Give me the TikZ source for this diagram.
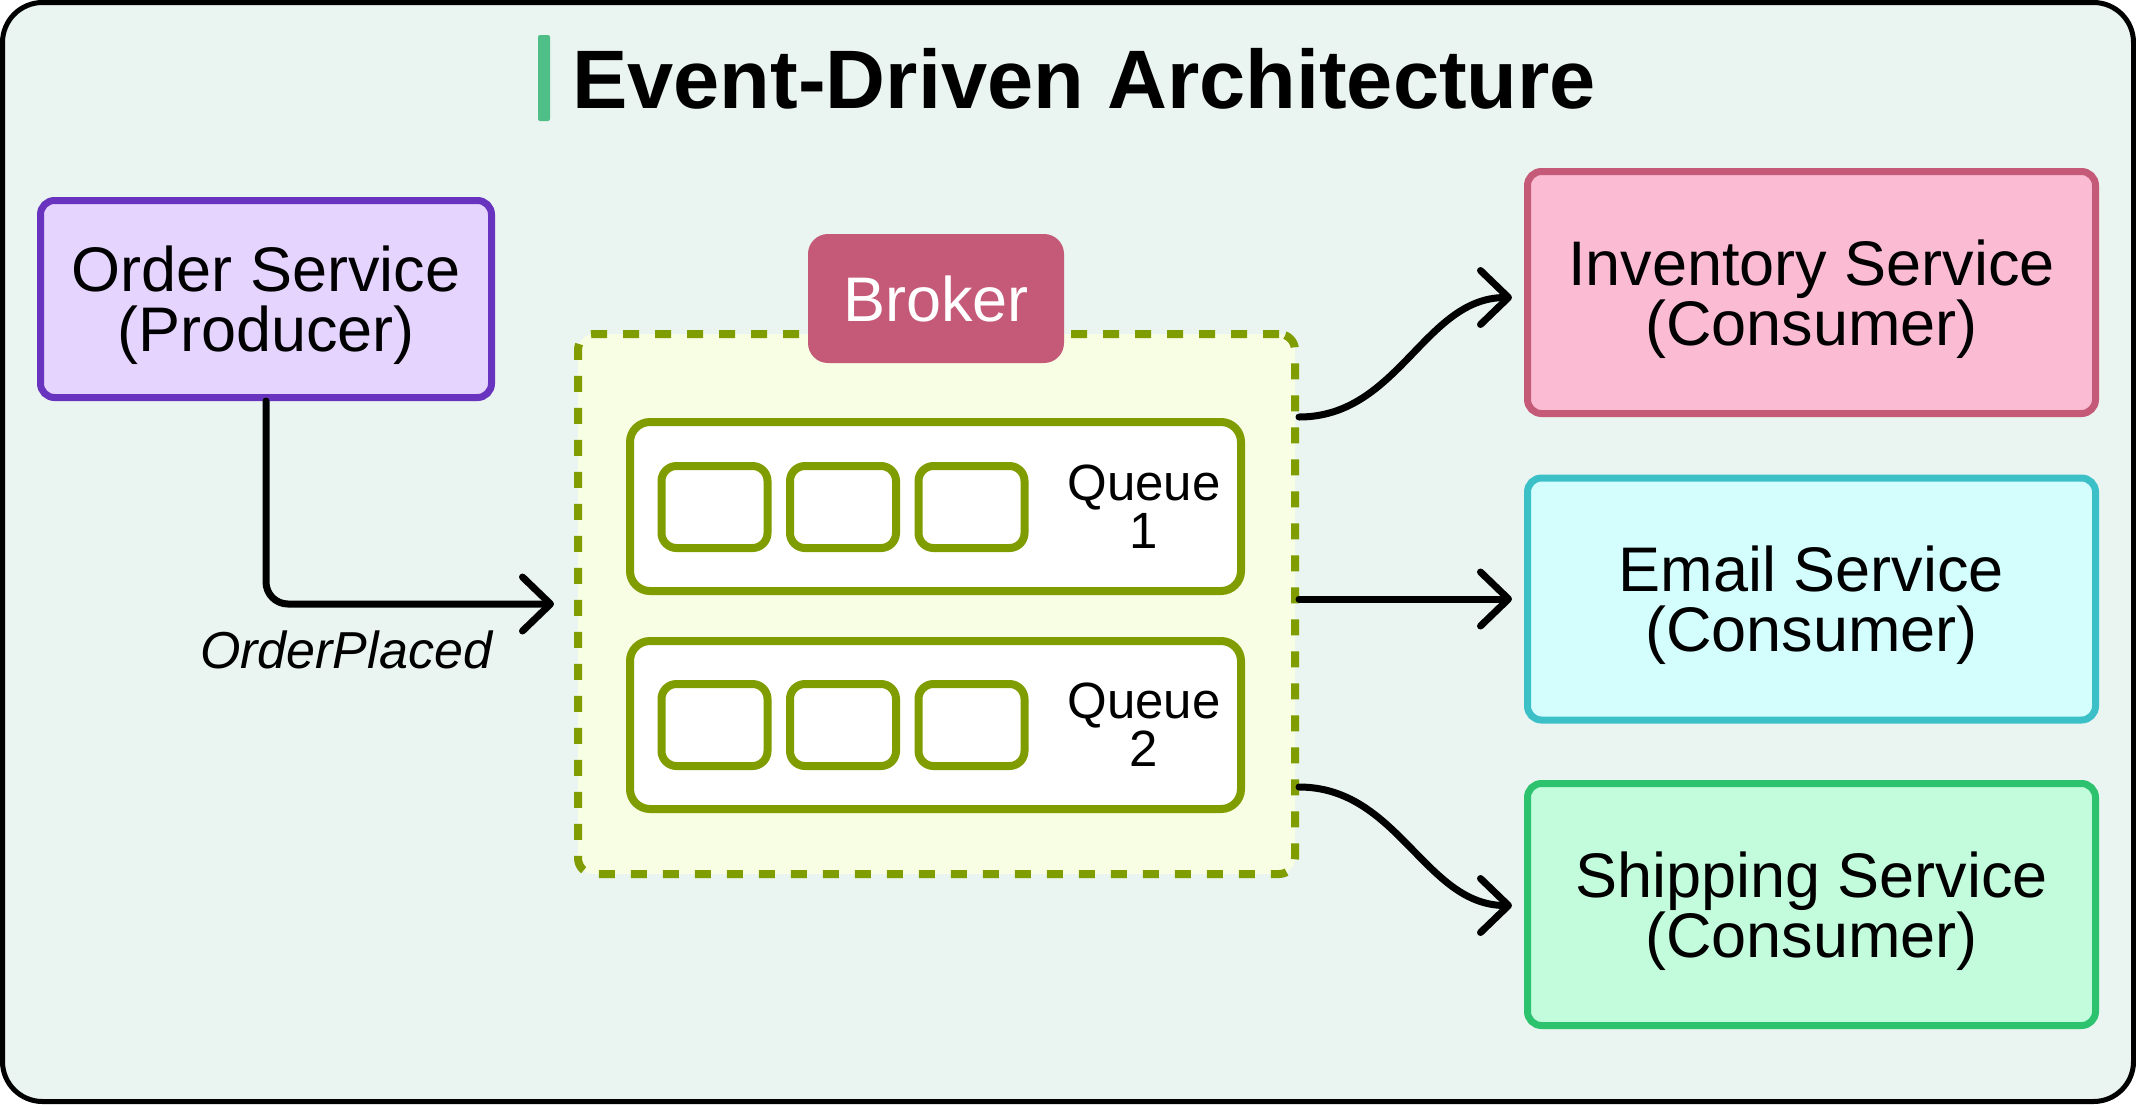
\documentclass[tikz,border=0pt]{standalone}
\usepackage{fontspec}
\setmainfont{Liberation Sans}
\usetikzlibrary{arrows.meta}
\definecolor{bgc}{HTML}{EAF4F0}
\definecolor{titlebar}{HTML}{4FBF87}
\definecolor{ordfill}{HTML}{E5D4FE}
\definecolor{ordline}{HTML}{6833BE}
\definecolor{invfill}{HTML}{FBBBD3}
\definecolor{pinkline}{HTML}{C55A78}
\definecolor{emlfill}{HTML}{D4FEFE}
\definecolor{emlline}{HTML}{3CC0C8}
\definecolor{shpfill}{HTML}{C3FCDD}
\definecolor{shpline}{HTML}{2DC26E}
\definecolor{brkfill}{HTML}{F8FEE4}
\definecolor{olive}{HTML}{809D00}
\begin{document}
\begin{tikzpicture}[x=1pt,y=-1pt,
  svcbox/.style={draw, line width=7pt, rounded corners=14pt, align=center,
    font=\fontsize{63}{60}\selectfont, minimum width=568pt, minimum height=242pt,
    inner sep=0pt, text depth=0pt},
  queuebox/.style={draw=olive, fill=white, line width=8pt, rounded corners=20pt,
    minimum width=611pt, minimum height=169pt, inner sep=0pt},
  slotbox/.style={draw=olive, fill=white, line width=8pt, rounded corners=15pt,
    minimum width=106pt, minimum height=82pt, inner sep=0pt},
  qlabel/.style={align=center, font=\fontsize{51}{48}\selectfont, inner sep=0pt},
  conn/.style={line width=7pt, line cap=round, line join=round,
    -{Straight Barb[length=28pt,width=54pt,round]}}
]
\useasboundingbox (0,0) rectangle (2136,1104);
\fill[white] (0,0) rectangle (2136,1104);
\draw[line width=5pt, fill=bgc, rounded corners=40pt] (2.5,2.5) rectangle (2133.5,1101.5);

% title
\fill[titlebar, rounded corners=2pt] (538,35) rectangle (550,121);
\node[anchor=base west, inner sep=0pt, font=\bfseries\fontsize{83}{90}\selectfont] (title) at (572,108) {Event-Driven Architecture};

% producer
\node[svcbox, draw=ordline, fill=ordfill, minimum width=451pt, minimum height=197pt] (order) at (266,299) {Order Service\\(Producer)};

% broker
\node[draw=olive, fill=brkfill, line width=8pt, dash pattern=on 16pt off 16pt,
  rounded corners=16pt, minimum width=717pt, minimum height=540pt] (broker) at (936.5,604) {};
\node[fill=pinkline, rounded corners=20pt, minimum width=256pt, minimum height=129pt,
  inner sep=0pt, text=white, font=\fontsize{63}{58}\selectfont] (brokertab) at (936,298.5) {Broker};

\node[queuebox] (q1) at (935.5,506.5) {};
\node[queuebox, minimum height=168pt] (q2) at (935.5,725) {};
\node[slotbox] (s11) at (714.5,507) {};
\node[slotbox] (s12) at (843,507) {};
\node[slotbox] (s13) at (971.5,507) {};
\node[slotbox] (s21) at (714.5,725) {};
\node[slotbox] (s22) at (843,725) {};
\node[slotbox] (s23) at (971.5,725) {};
\node[qlabel] (q1l) at (1144,507) {Queue\\1};
\node[qlabel] (q2l) at (1144,725) {Queue\\2};

% consumers
\node[svcbox, draw=pinkline, fill=invfill] (inv) at (1811.5,292.5) {Inventory Service\\(Consumer)};
\node[svcbox, draw=emlline, fill=emlfill] (eml) at (1811.5,599) {Email Service\\(Consumer)};
\node[svcbox, draw=shpline, fill=shpfill] (shp) at (1811.5,904.5) {Shipping Service\\(Consumer)};

% connectors
\draw[conn, rounded corners=22pt, shorten >=20pt] (order.south) |- (broker.west);
\node[anchor=base, inner sep=0pt, font=\itshape\fontsize{52}{58}\selectfont] (oplabel) at (346,668) {OrderPlaced};

\draw[conn, shorten >=12pt] ([yshift=187pt]broker.east) to[out=0,in=180] ([yshift=-5pt]inv.west);
\draw[conn, shorten >=12pt] (broker.east |- eml.west) -- (eml.west);
\draw[conn, shorten >=12pt] ([yshift=-183pt]broker.east) to[out=0,in=180] ([yshift=-1pt]shp.west);
\end{tikzpicture}
\end{document}
